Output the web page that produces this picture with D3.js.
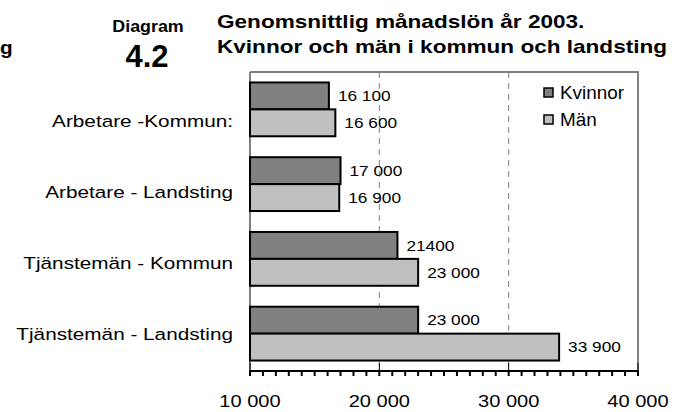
<!DOCTYPE html>
<html>
<head>
<meta charset="utf-8">
<script src="https://cdn.jsdelivr.net/npm/d3@7"></script>
<style>
  body { margin: 0; background: #fff; }
  svg { font-family: "Liberation Sans", Arial, sans-serif; }
</style>
</head>
<body>
<script>
var categories = ["Arbetare -Kommun:", "Arbetare - Landsting", "Tjänstemän - Kommun", "Tjänstemän - Landsting"];
var seriesNames = ["Kvinnor", "Män"];
var kvinnor = [16100, 17000, 21400, 23000];
var man = [16600, 16900, 23000, 33900];
var kvinnorLabels = ["16 100", "17 000", "21400", "23 000"];
var manLabels = ["16 600", "16 900", "23 000", "33 900"];
var xTicks = [10000, 20000, 30000, 40000];
var xTickLabels = ["10 000", "20 000", "30 000", "40 000"];

var colors = {"Kvinnor": "#808080", "Män": "#c0c0c0"};

var W = 681, H = 412;
var margin = {top: 72, right: 43, bottom: 41, left: 250},
    width = W - margin.left - margin.right,
    height = H - margin.top - margin.bottom;

var svg = d3.select("body").append("svg")
    .attr("width", W)
    .attr("height", H);

// the source text is a bit stretched sideways, so scale x on the text
function stretch(x, y, sx) {
  return "translate(" + x + "," + y + ") scale(" + sx + ",1)";
}

// titles
svg.append("text").attr("transform", stretch(0, 54, 1.15))
    .style("font-weight", "bold").style("font-size", "18px").text("g");
svg.append("text").attr("transform", stretch(148, 32, 1.05)).attr("text-anchor", "middle")
    .style("font-weight", "bold").style("font-size", "17px").text("Diagram");
svg.append("text").attr("x", 147).attr("y", 67).attr("text-anchor", "middle")
    .style("font-weight", "bold").style("font-size", "31px").text("4.2");
svg.append("text").attr("transform", stretch(217, 28, 1.29))
    .style("font-weight", "bold").style("font-size", "17.5px").text("Genomsnittlig månadslön år 2003.");
svg.append("text").attr("transform", stretch(217, 53, 1.29))
    .style("font-weight", "bold").style("font-size", "17.5px").text("Kvinnor och män i kommun och landsting");

var g = svg.append("g")
    .attr("transform", "translate(" + margin.left + "," + margin.top + ")");

var x = d3.scaleLinear().domain([10000, 40000]).range([0, width]);
var y = d3.scaleBand().domain(categories).range([0, height]).paddingInner(0.28).paddingOuter(0.14);
var ySub = d3.scaleBand().domain(seriesNames).range([0, y.bandwidth()]);

// frame (top, right) and gridlines
g.append("path").attr("d", "M0,0H" + width + "V" + height)
    .attr("fill", "none").attr("stroke", "#808080").attr("stroke-width", 2);
g.selectAll(".grid").data([20000, 30000]).enter().append("line")
    .attr("x1", function(d) { return x(d); }).attr("x2", function(d) { return x(d); })
    .attr("y1", 0).attr("y2", height)
    .attr("stroke", "#808080").attr("stroke-dasharray", "6,5");
g.append("line").attr("x1", 0).attr("x2", 0).attr("y1", 0).attr("y2", height)
    .attr("stroke", "#808080").attr("stroke-width", 2);

// bars
var rows = categories.map(function(c, i) {
  return [
    {cat: c, s: "Kvinnor", v: kvinnor[i], label: kvinnorLabels[i]},
    {cat: c, s: "Män", v: man[i], label: manLabels[i]}
  ];
});
var flat = d3.merge(rows);

g.selectAll(".bar").data(flat).enter().append("rect")
    .attr("x", x(10000))
    .attr("y", function(d) { return y(d.cat) + ySub(d.s); })
    .attr("width", function(d) { return x(d.v) - x(10000); })
    .attr("height", ySub.bandwidth())
    .attr("fill", function(d) { return colors[d.s]; })
    .attr("stroke", "#000").attr("stroke-width", 2);

g.selectAll(".val").data(flat).enter().append("text")
    .attr("transform", function(d) {
      return stretch(x(d.v) + 9, y(d.cat) + ySub(d.s) + ySub.bandwidth() / 2, 1.15);
    })
    .attr("dy", "0.35em")
    .style("font-size", "15px")
    .text(function(d) { return d.label; });

// category labels
var yLab = d3.scalePoint().domain(categories).range([49, 262]);
g.selectAll(".cat").data(categories).enter().append("text")
    .attr("transform", function(d) { return stretch(-17, yLab(d), 1.22); })
    .attr("dy", "0.35em")
    .attr("text-anchor", "end")
    .style("font-size", "17px")
    .text(function(d) { return d; });

// x axis
var xAxis = g.append("g").attr("transform", "translate(0," + height + ")");
xAxis.append("line").attr("x1", 0).attr("x2", width).attr("stroke", "#000").attr("stroke-width", 2);
xAxis.selectAll(".minor").data(d3.range(10000, 40001, 1000)).enter().append("line")
    .attr("x1", function(d) { return x(d); }).attr("x2", function(d) { return x(d); })
    .attr("y1", 0).attr("y2", 5).attr("stroke", "#000").attr("stroke-width", 2);
xAxis.selectAll(".major").data(xTicks).enter().append("line")
    .attr("x1", function(d) { return x(d); }).attr("x2", function(d) { return x(d); })
    .attr("y1", -8).attr("y2", 5).attr("stroke", "#000").attr("stroke-width", 1);
xAxis.selectAll(".tl").data(xTicks).enter().append("text")
    .attr("transform", function(d) { return stretch(x(d), 36, 1.18); })
    .attr("text-anchor", "middle")
    .style("font-size", "17px")
    .text(function(d, i) { return xTickLabels[i]; });

// legend
var legend = svg.append("g").attr("transform", "translate(544,88)");
seriesNames.forEach(function(s, i) {
  var row = legend.append("g").attr("transform", "translate(0," + (i * 27) + ")");
  row.append("rect").attr("width", 9).attr("height", 9)
      .attr("fill", colors[s]).attr("stroke", "#000").attr("stroke-width", 1.5);
  row.append("text").attr("transform", stretch(16, 5, 1.05)).attr("dy", "0.35em")
      .style("font-size", "18px").text(s);
});
</script>
</body>
</html>
